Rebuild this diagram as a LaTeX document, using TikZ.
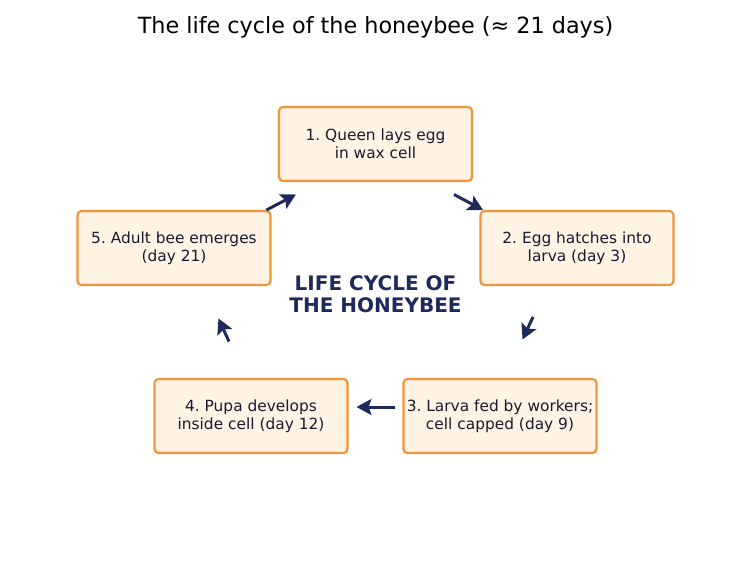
\documentclass[tikz,border=0pt]{standalone}
\usepackage{fontspec}
\setmainfont{DejaVu Sans}
\usetikzlibrary{arrows.meta}
\definecolor{boxfill}{HTML}{FFF3E3}
\definecolor{boxline}{HTML}{F2943A}
\definecolor{navy}{HTML}{1F2A5C}
\definecolor{txt}{HTML}{1A1A2E}
\tikzset{
  stage/.style={draw=boxline, fill=boxfill, line width=2.2pt, rounded corners=4pt,
    minimum width=193pt, minimum height=74pt, align=center, text=txt,
    font=\fontsize{15.4}{18}\selectfont, inner sep=2pt},
  flow/.style={draw=navy, line width=3pt, -{Stealth[length=15pt,width=16pt,inset=3pt]}},
}
\begin{document}
\frenchspacing
\begin{tikzpicture}[x=1pt,y=-1pt]
\useasboundingbox (0,0) rectangle (751,578);
\node[font=\fontsize{22.3}{26}\selectfont, text=black] (title) at (375.5,27) {The life cycle of the honeybee (≈ 21 days)};
\node[stage] (s1) at (375.5,144) {1. Queen lays egg\\in wax cell};
\node[stage] (s2) at (577,248) {2. Egg hatches into\\larva (day 3)};
\node[stage] (s3) at (500,416) {3. Larva fed by workers;\\cell capped (day 9)};
\node[stage] (s4) at (251,416) {4. Pupa develops\\inside cell (day 12)};
\node[stage] (s5) at (174,248) {5. Adult bee emerges\\(day 21)};
\node[font=\bfseries\fontsize{20}{22}\selectfont, text=navy, align=center] (hub) at (375.5,294.5) {LIFE CYCLE OF\\THE HONEYBEE};
\coordinate (a1s) at (454,194.5); \coordinate (a1e) at (483,210);
\coordinate (a2s) at (533,317); \coordinate (a2e) at (522.5,339.5);
\coordinate (a3s) at (395,407); \coordinate (a3e) at (356.5,407);
\coordinate (a4s) at (229,341.5); \coordinate (a4e) at (218.5,318.5);
\coordinate (a5s) at (266.5,210); \coordinate (a5e) at (296,194.5);
\draw[flow] (a1s) -- (a1e);
\draw[flow] (a2s) -- (a2e);
\draw[flow] (a3s) -- (a3e);
\draw[flow] (a4s) -- (a4e);
\draw[flow] (a5s) -- (a5e);
\end{tikzpicture}
\end{document}
